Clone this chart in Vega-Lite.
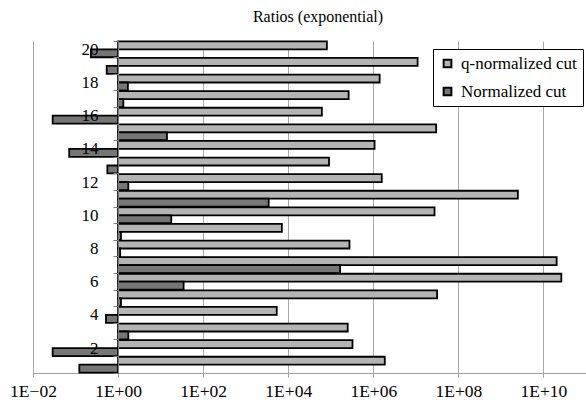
{
  "$schema": "https://vega.github.io/schema/vega-lite/v6.json",
  "autosize": {"type": "none"},
  "padding": {"left": 33, "top": 41, "right": 0, "bottom": 29},
  "width": 553,
  "height": 332,
  "background": "white",
  "config": {"view": {"stroke": null}},
  "title": {"text": "Ratios (exponential)", "font": "Liberation Serif, Times New Roman, serif", "fontSize": 16, "fontWeight": "normal", "color": "black", "frame": "group", "anchor": "middle", "dx": 8.5, "offset": 7},
  "data": {"values": [
    {"cat": 20, "series": "q-normalized cut", "value": 81000},
    {"cat": 20, "series": "Normalized cut", "value": 0.23},
    {"cat": 19, "series": "q-normalized cut", "value": 11000000},
    {"cat": 19, "series": "Normalized cut", "value": 0.54},
    {"cat": 18, "series": "q-normalized cut", "value": 1410000},
    {"cat": 18, "series": "Normalized cut", "value": 1.7},
    {"cat": 17, "series": "q-normalized cut", "value": 263000},
    {"cat": 17, "series": "Normalized cut", "value": 1.33},
    {"cat": 16, "series": "q-normalized cut", "value": 61700},
    {"cat": 16, "series": "Normalized cut", "value": 0.029},
    {"cat": 15, "series": "q-normalized cut", "value": 30000000},
    {"cat": 15, "series": "Normalized cut", "value": 14.1},
    {"cat": 14, "series": "q-normalized cut", "value": 1070000},
    {"cat": 14, "series": "Normalized cut", "value": 0.071},
    {"cat": 13, "series": "q-normalized cut", "value": 91000},
    {"cat": 13, "series": "Normalized cut", "value": 0.56},
    {"cat": 12, "series": "q-normalized cut", "value": 1580000},
    {"cat": 12, "series": "Normalized cut", "value": 1.74},
    {"cat": 11, "series": "q-normalized cut", "value": 2500000000},
    {"cat": 11, "series": "Normalized cut", "value": 3470},
    {"cat": 10, "series": "q-normalized cut", "value": 27500000},
    {"cat": 10, "series": "Normalized cut", "value": 17.8},
    {"cat": 9, "series": "q-normalized cut", "value": 7080},
    {"cat": 9, "series": "Normalized cut", "value": 1.17},
    {"cat": 8, "series": "q-normalized cut", "value": 275000},
    {"cat": 8, "series": "Normalized cut", "value": 1.12},
    {"cat": 7, "series": "q-normalized cut", "value": 20400000000},
    {"cat": 7, "series": "Normalized cut", "value": 166000},
    {"cat": 6, "series": "q-normalized cut", "value": 26300000000},
    {"cat": 6, "series": "Normalized cut", "value": 34.7},
    {"cat": 5, "series": "q-normalized cut", "value": 31600000},
    {"cat": 5, "series": "Normalized cut", "value": 1.17},
    {"cat": 4, "series": "q-normalized cut", "value": 5370},
    {"cat": 4, "series": "Normalized cut", "value": 0.52},
    {"cat": 3, "series": "q-normalized cut", "value": 250000},
    {"cat": 3, "series": "Normalized cut", "value": 1.74},
    {"cat": 2, "series": "q-normalized cut", "value": 324000},
    {"cat": 2, "series": "Normalized cut", "value": 0.029},
    {"cat": 1, "series": "q-normalized cut", "value": 1860000},
    {"cat": 1, "series": "Normalized cut", "value": 0.123}
  ]},
  "mark": {"type": "bar", "stroke": "black", "strokeWidth": 1.8, "cornerRadius": 0},
  "encoding": {
    "y": {"field": "cat", "type": "ordinal", "sort": "descending",
      "scale": {"paddingInner": 0.04, "paddingOuter": 0.02},
      "axis": {"title": null, "offset": -85, "zindex": 1, "grid": false,
        "labelExpr": "datum.value % 2 == 0 ? datum.label : ''",
        "tickBand": "extent", "tickSize": 5, "domainColor": "#7a7a7a", "tickColor": "#7a7a7a",
        "labelFont": "Liberation Serif, Times New Roman, serif", "labelFontSize": 17, "labelColor": "black", "labelPadding": 15, "labelOverlap": false}},
    "yOffset": {"field": "series", "sort": ["q-normalized cut", "Normalized cut"], "scale": {"paddingInner": 0}},
    "x": {"field": "value", "type": "quantitative",
      "scale": {"type": "log", "domain": [0.01, 100000000000], "nice": false},
      "axis": {"title": null, "values": [0.01, 1, 100, 10000, 1000000, 100000000, 10000000000],
        "labelExpr": "datum.value < 1 ? '1E\u221202' : '1E+' + (datum.value < 1e10 ? '0' : '') + format(log(datum.value)/LN10, '.0f')",
        "grid": true, "gridColor": "#a8a8a8", "domainColor": "#a0a0a0", "tickColor": "#a0a0a0", "tickSize": 4,
        "labelFont": "Liberation Serif, Times New Roman, serif", "labelFontSize": 17.5, "labelColor": "black", "labelPadding": 5,
        "labelFlush": false, "labelOverlap": false}},
    "x2": {"datum": 1},
    "color": {"field": "series", "type": "nominal",
      "scale": {"domain": ["q-normalized cut", "Normalized cut"], "range": ["#b4b4b4", "#767676"]},
      "legend": {"orient": "none", "legendX": 400, "legendY": 8, "title": null,
        "strokeColor": "black", "fillColor": "white", "padding": 6,
        "labelFont": "Liberation Serif, Times New Roman, serif", "labelFontSize": 17, "labelColor": "black",
        "symbolType": "square", "symbolSize": 60, "symbolStrokeColor": "black", "symbolStrokeWidth": 2, "symbolOpacity": 1,
        "rowPadding": 10, "labelOffset": 5}}
  }
}
